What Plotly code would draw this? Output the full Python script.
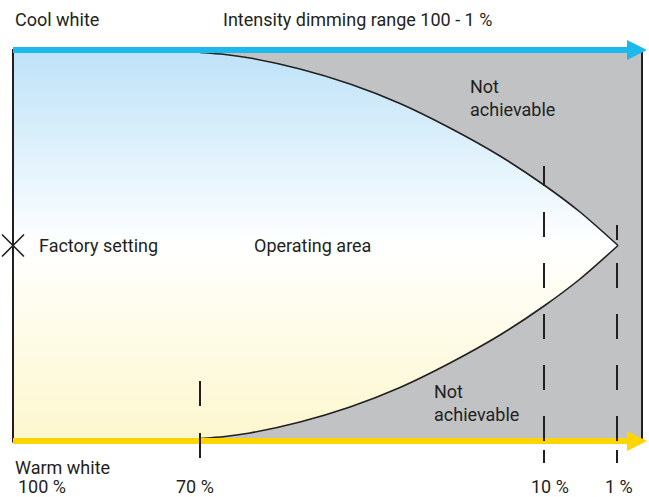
import plotly.graph_objects as go

# ---- data (schematic units of the diagram) ----
curve_x = [200, 225, 250, 300, 350, 400, 450, 500, 544, 580, 618]
# half-width of the achievable colour-temperature range at each position
curve_half = [193.0, 191.0, 187.5, 176.5, 161.5, 142.0, 117.5, 89.5, 60.5, 33.5, 0]
full_half = 195.5
centre_y = 245.5

tick_labels = ["100 %", "70 %", "10 %", "1 %"]
tick_pos = [13, 200, 544, 617]
tick_label_centre = [42, 195, 550, 619]

top_label = "Cool white"
bottom_label = "Warm white"
title_text = "Intensity dimming range 100 - 1 %"

INK = "#231f20"
GRAY = "#c1c2c4"
BLUE = "#1cb9ec"
YELLOW = "#ffd500"
FONT = "Roboto"
FSIZE = 18

top_y = [centre_y - h for h in curve_half]
bot_y = [centre_y + h for h in curve_half]
y_top_edge = centre_y - full_half
y_bot_edge = centre_y + full_half
x_left = tick_pos[0]
x_right = 642

fig = go.Figure()

# operating area polygon with vertical gradient
poly_x = [x_left, curve_x[0] - 4] + curve_x + curve_x[::-1] + [curve_x[0] - 4, x_left]
poly_y = [y_top_edge, y_top_edge] + top_y + bot_y[::-1] + [y_bot_edge, y_bot_edge]
fig.add_trace(go.Scatter(
    x=poly_x, y=poly_y, mode="lines", fill="toself",
    line=dict(width=0, color="rgba(0,0,0,0)"),
    fillgradient=dict(type="vertical",
                      colorscale=[[0, "#bde2f8"], [0.5, "#ffffff"], [1, "#fdf7cd"]],
                      start=y_top_edge, stop=y_bot_edge),
    hoverinfo="skip", showlegend=False))

# boundary curves
for ys in (top_y, bot_y):
    fig.add_trace(go.Scatter(x=curve_x, y=ys, mode="lines",
                             line=dict(color=INK, width=1.6, shape="spline", smoothing=0.8),
                             hoverinfo="skip", showlegend=False))

# factory setting marker
fig.add_trace(go.Scatter(x=[x_left], y=[centre_y], mode="markers",
                         marker=dict(symbol="x-thin", size=22, line=dict(color=INK, width=1.6)),
                         hoverinfo="skip", showlegend=False))

shapes = []
# gray not-achievable region
shapes.append(dict(type="rect", x0=curve_x[0], x1=x_right, y0=y_top_edge, y1=y_bot_edge,
                   fillcolor=GRAY, line=dict(width=0), layer="below"))
# vertical borders
for xv in (x_left, x_right):
    shapes.append(dict(type="line", x0=xv, x1=xv, y0=y_top_edge - 1, y1=y_bot_edge + 1.5,
                       line=dict(color=INK, width=2)))
# arrows
for yv, col in ((y_top_edge, BLUE), (y_bot_edge, YELLOW)):
    shapes.append(dict(type="line", x0=x_left, x1=628, y0=yv, y1=yv, line=dict(color=col, width=6)))
    shapes.append(dict(type="path", path=f"M 627 {yv-10} L 647 {yv} L 627 {yv+10} Z",
                       fillcolor=col, line=dict(width=0)))
# dashed markers
dash_segments = {
    200: [(381, 406), (433, 458)],
    544: [(166, 186), (212, 237), (263, 288), (314, 339), (365, 390), (416, 441), (450, 463)],
    617: [(225, 240), (263, 288), (314, 339), (365, 390), (416, 441), (450, 463)],
}
for xv, segs in dash_segments.items():
    for a, b in segs:
        shapes.append(dict(type="line", x0=xv, x1=xv, y0=a, y1=b, line=dict(color=INK, width=2)))

ann = []
def txt(x, y, s, anchor="left"):
    ann.append(dict(x=x, y=y, text=s, showarrow=False, xanchor=anchor, yanchor="middle",
                    align="left", font=dict(family=FONT, size=FSIZE, color=INK)))

txt(13, 19, top_label)
txt(221, 19, title_text)
txt(468, 98, "Not<br>achievable")
txt(37, 245, "Factory setting")
txt(252, 245, "Operating area")
txt(432, 403, "Not<br>achievable")
txt(13, 467, bottom_label)
for lab, xc in zip(tick_labels, tick_label_centre):
    txt(xc, 486, lab, anchor="center")

fig.update_layout(
    width=649, height=497, margin=dict(l=0, r=0, t=0, b=0),
    paper_bgcolor="white", plot_bgcolor="white",
    xaxis=dict(range=[0, 649], visible=False, fixedrange=True),
    yaxis=dict(range=[497, 0], visible=False, fixedrange=True),
    shapes=shapes, annotations=ann, showlegend=False,
)
fig.write_html("out.html", config=dict(displayModeBar=False),
               post_script="document.body.style.margin='0';document.body.style.overflow='hidden';")
